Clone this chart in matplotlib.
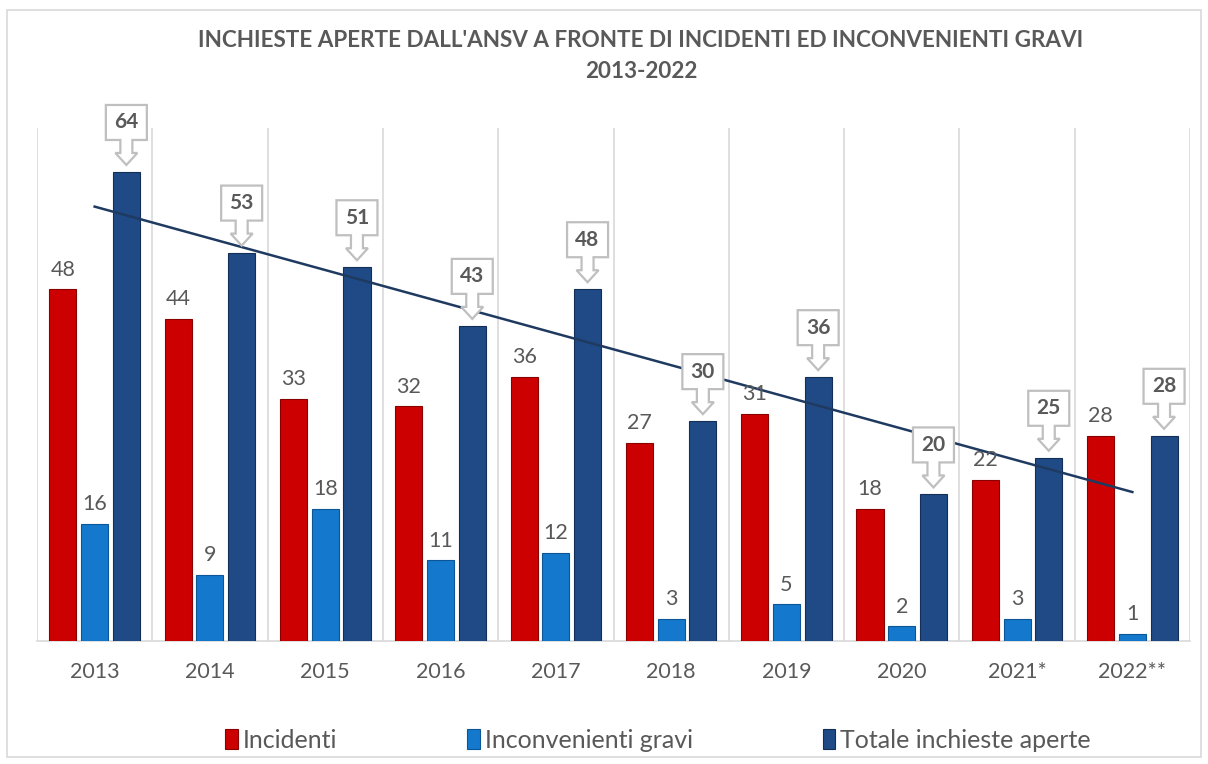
import numpy as np
import matplotlib
matplotlib.use("Agg")
import matplotlib.pyplot as plt
from matplotlib import transforms
from matplotlib.patches import Polygon, Rectangle

# ---- data ----
YEARS = ["2013", "2014", "2015", "2016", "2017", "2018", "2019", "2020",
         "2021*", "2022**"]
INCIDENTI = [48, 44, 33, 32, 36, 27, 31, 18, 22, 28]
INCONVENIENTI = [16, 9, 18, 11, 12, 3, 5, 2, 3, 1]
TOTALE = [64, 53, 51, 43, 48, 30, 36, 20, 25, 28]
SERIES_NAMES = ["Incidenti", "Inconvenienti gravi", "Totale inchieste aperte"]

TITLE = ("INCHIESTE APERTE DALL'ANSV A FRONTE DI INCIDENTI ED INCONVENIENTI GRAVI\n"
         "2013-2022")

RED, BLUE, NAVY = "#cc0000", "#1479cc", "#1f4a85"
EDGES = {RED: "#8a0000", BLUE: "#0c5596", NAVY: "#142f57"}
GREY_TXT = "#595959"
GRID = "#d9d9d9"

plt.rcParams.update({"font.family": ["Lato", "DejaVu Sans"]})

fig = plt.figure(figsize=(12.08, 7.64), dpi=100)
ax = fig.add_axes([37 / 1208, 1 - 641 / 764, (1190 - 37) / 1208, (641 - 128) / 764])

# outer chart frame
fig.patches.append(Rectangle((7 / 1208, 1 - 757 / 764), 1194 / 1208, 747 / 764,
                             transform=fig.transFigure, fill=False,
                             ec=GRID, lw=1.2))

x = np.arange(len(YEARS))
step, width = 0.275, 0.235
bars = []
for off, vals, col in zip([-step, 0, step], [INCIDENTI, INCONVENIENTI, TOTALE],
                          [RED, BLUE, NAVY]):
    b = ax.bar(x + off, vals, width, color=col, edgecolor=EDGES[col],
               linewidth=0.8, zorder=3)
    bars.append(b)

# plain value labels for the first two series
for off, vals in zip([-step, 0], [INCIDENTI, INCONVENIENTI]):
    for xi, v in zip(x, vals):
        ax.annotate(str(v), (xi + off, v), xytext=(0, 7),
                    textcoords="offset points", ha="center", va="bottom",
                    fontsize=15.5, color=GREY_TXT, zorder=5)

# callout labels for the totals (box with a down arrow)
px = 1 / 100.0
shape = [(0, 7), (11, 19), (6, 19), (6, 32), (20.5, 32), (20.5, 67),
         (-20.5, 67), (-20.5, 32), (-6, 32), (-6, 19), (-11, 19)]
shape = [(a * px, b * px) for a, b in shape]
for xi, v in zip(x, TOTALE):
    tr = fig.dpi_scale_trans + transforms.ScaledTranslation(xi + step, v, ax.transData)
    ax.add_patch(Polygon(shape, closed=True, transform=tr, fc="white",
                         ec="#bfbfbf", lw=1.6, zorder=6, clip_on=False))
    ax.text(0, 49.5 * px, str(v), transform=tr, ha="center", va="center",
            fontsize=15, fontweight="bold", color=GREY_TXT, zorder=7)

# linear trend of totals
coef = np.polyfit(x, TOTALE, 1)
ax.plot(x, np.polyval(coef, x), color="#1f3a60", lw=1.8, zorder=4)

ax.set_xlim(-0.5, len(YEARS) - 0.5)
ax.set_ylim(0, 70)
ax.set_xticks(x)
ax.set_xticklabels(YEARS, fontsize=15.5, color=GREY_TXT)
ax.tick_params(axis="x", length=0, pad=15)
ax.set_yticks([])
for xb in np.arange(-0.5, len(YEARS), 1.0):
    ax.axvline(xb, color=GRID, lw=1.2, zorder=1)
for s in ["top", "right", "left"]:
    ax.spines[s].set_visible(False)
ax.spines["bottom"].set_color(GRID)
ax.spines["bottom"].set_linewidth(1.2)

fig.text(641 / 1208, 1 - 56 / 764, TITLE, ha="center", va="center",
         fontsize=16.2, fontweight="bold", color=GREY_TXT, linespacing=1.55)

leg = fig.legend(bars, SERIES_NAMES, loc="center", ncol=3,
                 bbox_to_anchor=(658 / 1208, 1 - 740 / 764), frameon=False,
                 fontsize=18, handlelength=0.5, handleheight=0.9,
                 handletextpad=0.2, columnspacing=5.2)
for t in leg.get_texts():
    t.set_color(GREY_TXT)

fig.savefig("out.png", dpi=100)
